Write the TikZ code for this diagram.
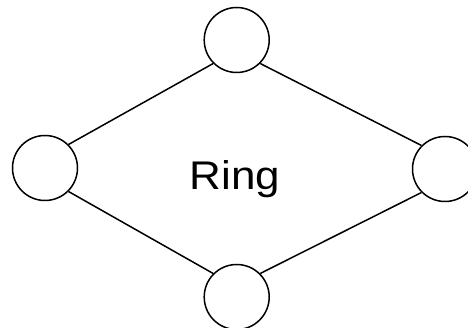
\documentclass[tikz,border=0pt]{standalone}
\usepackage{fontspec}
\setmainfont{Liberation Sans}
\begin{document}
\begin{tikzpicture}[x=1pt,y=-1pt,line width=1.5pt,
  ringnode/.style={draw,circle,minimum size=65pt,inner sep=0pt}]
\useasboundingbox (0,0) rectangle (468,328);
\foreach \n/\x/\y in {top/236.7/40,left/45/168,right/445/169,bottom/236.7/297} \node[ringnode] (\n) at (\x,\y) {};
\draw (top.south east) -- (right.north west);
\draw (right.south west) -- (bottom.north east);
\draw (bottom.north west) -- (left.south east);
\draw (left.north east) -- (top.south west);
\node[font=\fontsize{40}{44}\selectfont,anchor=base,inner sep=0pt] (label) at (235.2,189.5) {\scalebox{1.1}[1]{Ring}};
\end{tikzpicture}
\end{document}
